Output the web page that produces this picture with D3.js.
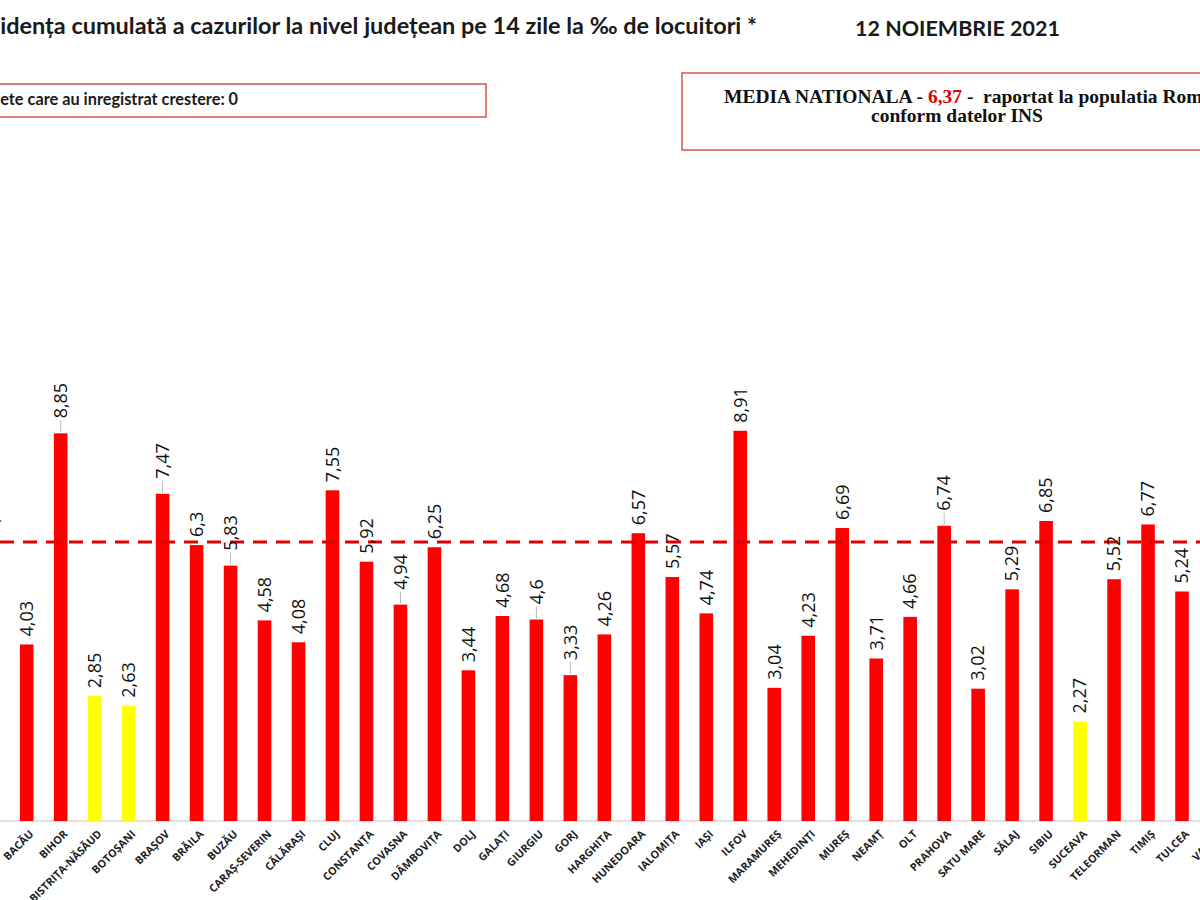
<!DOCTYPE html>
<html>
<head>
<meta charset="utf-8">
<script src="https://cdn.jsdelivr.net/npm/d3@7"></script>
<style>
  body { margin: 0; background: #fff; }
  svg { display: block; }
</style>
</head>
<body>
<div class="graph"></div>
<script>
// data (ARGEȘ only shows the edge of its label)
var categories = ["ARGEȘ", "BACĂU", "BIHOR", "BISTRIȚA-NĂSĂUD", "BOTOȘANI", "BRAȘOV", "BRĂILA", "BUZĂU",
    "CARAȘ-SEVERIN", "CĂLĂRAȘI", "CLUJ", "CONSTANȚA", "COVASNA", "DÂMBOVIȚA", "DOLJ", "GALAȚI",
    "GIURGIU", "GORJ", "HARGHITA", "HUNEDOARA", "IALOMIȚA", "IAȘI", "ILFOV", "MARAMUREȘ",
    "MEHEDINȚI", "MUREȘ", "NEAMȚ", "OLT", "PRAHOVA", "SATU MARE", "SĂLAJ", "SIBIU", "SUCEAVA",
    "TELEORMAN", "TIMIȘ", "TULCEA", "VASLUI"]
var values = [6.4, 4.03, 8.85, 2.85, 2.63, 7.47, 6.3, 5.83,
    4.58, 4.08, 7.55, 5.92, 4.94, 6.25, 3.44, 4.68,
    4.6, 3.33, 4.26, 6.57, 5.57, 4.74, 8.91, 3.04,
    4.23, 6.69, 3.71, 4.66, 6.74, 3.02, 5.29, 6.85, 2.27,
    5.52, 6.77, 5.24, null]
var leaderLabels = ["BIHOR", "BRAȘOV", "BUZĂU", "COVASNA", "GIURGIU", "GORJ", "PRAHOVA"]
var nationalAvg = 6.37
var threshold = 3
var title = "Incidența cumulată a cazurilor la nivel județean pe 14 zile la ‰ de locuitori *"
var titleVisible = "idența cumulată a cazurilor la nivel județean pe 14 zile la ‰ de locuitori *"
var dateText = "12 NOIEMBRIE 2021"
var growthText = "Judete care au inregistrat crestere: 0"

var width = 1200, height = 900
var baseY = 821

var svg = d3.select('.graph')
    .append('svg')
    .attr('width', width)
    .attr('height', height)

var x = d3.scaleBand()
    .domain(categories)
    .range([-24.3, 1233])
    .paddingInner(0.6)
    .paddingOuter(0.3)

var y = d3.scaleLinear()
    .domain([0, 10])
    .range([baseY, baseY - 438])

var fmt = function(v) { return String(v).replace('.', ',') }

// fit a text to a width by scaling its font size
function fitSize(str, family, weight, base, target) {
    var t = svg.append('text')
        .style('font-family', family)
        .style('font-weight', weight)
        .style('font-size', base + 'px')
        .text(str)
    var w = t.node().getComputedTextLength()
    t.remove()
    return base * target / w
}

// title (cut on the left like the reference)
var tSize = fitSize(titleVisible, 'Lato', 700, 22, 757)
svg.append('text')
    .attr('x', 757)
    .attr('y', 34)
    .attr('text-anchor', 'end')
    .style('font-family', 'Lato')
    .style('font-weight', 700)
    .style('font-size', tSize + 'px')
    .style('fill', '#1a1a1a')
    .text(title)

var dSize = fitSize(dateText, 'Lato', 700, 22, 205)
svg.append('text')
    .attr('x', 855)
    .attr('y', 36)
    .style('font-family', 'Lato')
    .style('font-weight', 700)
    .style('font-size', dSize + 'px')
    .style('fill', '#1a1a1a')
    .text(dateText)

// box: counties with growth
svg.append('rect')
    .attr('x', -20)
    .attr('y', 84)
    .attr('width', 506)
    .attr('height', 33)
    .style('fill', 'none')
    .style('stroke', '#d9534f')
    .style('stroke-width', 1.5)
var gSize = fitSize("ete care au inregistrat crestere: 0", 'Lato', 700, 14, 238)
svg.append('text')
    .attr('x', 238)
    .attr('y', 105)
    .attr('text-anchor', 'end')
    .style('font-family', 'Lato')
    .style('font-weight', 700)
    .style('font-size', gSize + 'px')
    .style('fill', '#1a1a1a')
    .text(growthText)

// box: national average
svg.append('rect')
    .attr('x', 682)
    .attr('y', 73)
    .attr('width', 560)
    .attr('height', 77)
    .style('fill', 'none')
    .style('stroke', '#d9534f')
    .style('stroke-width', 1.5)
var media = svg.append('text')
    .attr('x', 724)
    .attr('y', 103)
    .style('font-family', 'Liberation Serif')
    .style('font-weight', 700)
    .style('font-size', '19.5px')
    .style('fill', '#111')
media.append('tspan').text('MEDIA NATIONALA - ')
media.append('tspan').style('fill', '#e00000').text(fmt(nationalAvg))
media.append('tspan').attr('xml:space', 'preserve').text(' -  raportat la populatia României')
svg.append('text')
    .attr('x', 957)
    .attr('y', 122)
    .attr('text-anchor', 'middle')
    .style('font-family', 'Liberation Serif')
    .style('font-weight', 700)
    .style('font-size', '19.5px')
    .style('fill', '#111')
    .text('conform datelor INS')

// axis baseline
svg.append('line')
    .attr('x1', 0).attr('x2', width)
    .attr('y1', baseY).attr('y2', baseY)
    .style('stroke', '#d9d9d9')
    .style('stroke-width', 1.5)

var data = categories.map(function(c, i) { return {name: c, value: values[i]} })
    .filter(function(d) { return d.value != null })

// bars
svg.selectAll('.bar')
    .data(data)
    .enter().append('rect')
    .attr('class', 'bar')
    .attr('x', function(d) { return x(d.name) })
    .attr('y', function(d) { return y(d.value) })
    .attr('width', x.bandwidth())
    .attr('height', function(d) { return baseY - y(d.value) })
    .style('fill', function(d) { return d.value < threshold ? '#ffff00' : '#ff0000' })

// national average line
svg.append('line')
    .attr('x1', 0).attr('x2', width)
    .attr('y1', y(nationalAvg)).attr('y2', y(nationalAvg))
    .style('stroke', '#e00000')
    .style('stroke-width', 3)
    .style('stroke-dasharray', '14 9')

// value labels
var gap = function(d) { return leaderLabels.indexOf(d.name) >= 0 ? 15 : 8 }
svg.selectAll('.leader')
    .data(data.filter(function(d) { return leaderLabels.indexOf(d.name) >= 0 }))
    .enter().append('line')
    .attr('x1', function(d) { return x(d.name) + x.bandwidth() / 2 })
    .attr('x2', function(d) { return x(d.name) + x.bandwidth() / 2 })
    .attr('y1', function(d) { return y(d.value) - 1 })
    .attr('y2', function(d) { return y(d.value) - 13 })
    .style('stroke', '#bbbbbb')
    .style('stroke-width', 1)

svg.selectAll('.val')
    .data(data)
    .enter().append('text')
    .attr('class', 'val')
    .attr('transform', function(d) {
        return 'translate(' + (x(d.name) + x.bandwidth() / 2) + ',' + (y(d.value) - gap(d)) + ') rotate(-90)'
    })
    .attr('dy', '0.35em')
    .style('font-family', 'Open Sans')
    .style('font-size', '18px')
    .style('font-weight', 500)
    .style('fill', '#111')
    .text(function(d) { return fmt(d.value) })

// category labels
svg.selectAll('.cat')
    .data(categories)
    .enter().append('text')
    .attr('class', 'cat')
    .attr('transform', function(d) {
        return 'translate(' + (x(d) + x.bandwidth() / 2 + 5) + ',' + (baseY + 11) + ') rotate(-45)'
    })
    .attr('text-anchor', 'end')
    .attr('dy', '0.35em')
    .style('font-family', 'Open Sans')
    .style('font-weight', 700)
    .style('font-size', '10.8px')
    .style('fill', '#222')
    .text(function(d) { return d })
</script>
</body>
</html>
